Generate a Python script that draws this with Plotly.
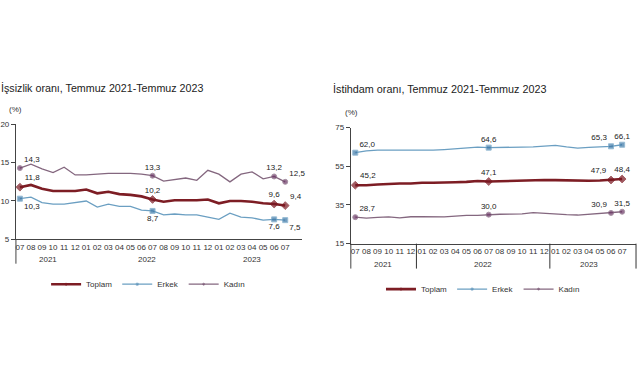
import plotly.graph_objects as go

# ---------------- data ----------------
months = ["07", "08", "09", "10", "11", "12",
          "01", "02", "03", "04", "05", "06", "07", "08", "09", "10", "11", "12",
          "01", "02", "03", "04", "05", "06", "07"]
years = ["2021"] * 6 + ["2022"] * 12 + ["2023"] * 7

series_names = ["Toplam", "Erkek", "Kadın"]

unemp_total = [11.8, 12.1, 11.6, 11.3, 11.3, 11.3, 11.5, 11.0, 11.2, 10.9, 10.8, 10.6,
               10.2, 9.9, 10.1, 10.1, 10.1, 10.2, 9.7, 10.0, 10.0, 9.9, 9.7, 9.6, 9.4]
unemp_male = [10.3, 10.5, 9.8, 9.6, 9.6, 9.8, 10.0, 9.2, 9.6, 9.3, 9.3, 8.8,
              8.7, 8.2, 8.3, 8.2, 8.2, 7.9, 7.6, 8.4, 7.9, 7.8, 7.5, 7.6, 7.5]
unemp_female = [14.3, 14.8, 14.2, 13.7, 14.4, 13.4, 13.4, 13.5, 13.6, 13.6, 13.6, 13.5,
                13.3, 12.6, 12.8, 13.0, 12.7, 14.0, 13.5, 12.5, 13.5, 13.8, 12.9, 13.2, 12.5]

emp_total = [45.2, 45.2, 45.6, 46.0, 46.1, 46.1, 46.5, 46.5, 46.5, 46.7, 46.9, 47.4,
             47.1, 47.3, 47.4, 47.6, 47.8, 47.9, 47.8, 47.6, 47.4, 47.5, 47.6, 47.9, 48.4]
emp_male = [62.0, 62.9, 63.3, 63.3, 63.2, 63.3, 63.2, 63.3, 63.6, 64.0, 64.6, 64.9,
            64.6, 64.8, 64.7, 64.9, 65.0, 65.3, 65.8, 65.0, 64.4, 64.7, 65.1, 65.3, 66.1]
emp_female = [28.7, 28.2, 28.6, 28.8, 28.3, 28.9, 29.0, 28.9, 28.8, 29.2, 29.6, 29.6,
              30.0, 30.2, 30.3, 30.4, 31.0, 30.6, 30.5, 30.0, 29.8, 30.3, 30.6, 30.9, 31.5]

label_idx = [0, 12, 23, 24]

left_title = "İşsizlik oranı, Temmuz 2021-Temmuz 2023"
right_title = "İstihdam oranı, Temmuz 2021-Temmuz 2023"
unit_label = "(%)"
left_yticks = [5, 10, 15, 20]
right_yticks = [15, 35, 55, 75]

# ---------------- styling ----------------
W, H = 641, 380
colors = {"Toplam": "#7d1d24", "Erkek": "#6b9fc2", "Kadın": "#84677f"}
mcolors = {"Toplam": "#7a1620", "Erkek": "#3a76a6", "Kadın": "#6a3464"}
widths = {"Toplam": 2.6, "Erkek": 1.3, "Kadın": 1.3}
symbols = {"Toplam": "diamond", "Erkek": "square", "Kadın": "circle"}
msizes = {"Toplam": 6, "Erkek": 5, "Kadın": 5}
FONT = "Liberation Sans, Arial, sans-serif"
TXT = "#222"

xkeys = [f"{y}-{m}" for y, m in zip(years, months)]
n = len(months)


def fmt(v):
    return f"{v:.1f}".replace(".", ",")


fig = go.Figure()


def add_series(vals, name, xa, ya, legend, positions):
    sizes = [msizes[name] if i in label_idx else 0 for i in range(n)]
    texts = [fmt(vals[i]) if i in label_idx else "" for i in range(n)]
    tpos = ["top center"] * n
    for k, i in enumerate(label_idx):
        tpos[i] = positions[k]
    fig.add_trace(go.Scatter(
        x=xkeys, y=vals, name=name, mode="lines+markers+text",
        xaxis=xa, yaxis=ya, legend=legend,
        line=dict(color=colors[name], width=widths[name]),
        marker=dict(size=sizes, color=mcolors[name], symbol=symbols[name]),
        text=texts, textposition=tpos, cliponaxis=False,
        textfont=dict(size=8, color=TXT, family=FONT),
    ))


top_pos = ["top right", "top center", "top center", "top right"]
bot_pos = ["bottom right", "bottom center", "bottom center", "bottom right"]
right_pos = ["top right", "top center", "top left", "top center"]

add_series(unemp_total, "Toplam", "x", "y", "legend", top_pos)
add_series(unemp_male, "Erkek", "x", "y", "legend", bot_pos)
add_series(unemp_female, "Kadın", "x", "y", "legend", top_pos)
add_series(emp_total, "Toplam", "x2", "y2", "legend2", right_pos)
add_series(emp_male, "Erkek", "x2", "y2", "legend2", right_pos)
add_series(emp_female, "Kadın", "x2", "y2", "legend2", right_pos)

axis_common = dict(showline=True, linecolor="#444", linewidth=1, showgrid=False,
                   zeroline=False, tickfont=dict(size=8, color="#333", family=FONT))

# year group label positions (centre of each group, category index scale)
groups = []
for y in dict.fromkeys(years):
    idx = [i for i, yy in enumerate(years) if yy == y]
    groups.append((y, idx[0], idx[-1]))

annotations = [
    dict(text=left_title, x=-5 / W, y=1 - 86 / H, xref="paper", yref="paper",
         xanchor="left", yanchor="middle", showarrow=False,
         font=dict(size=10.7, color=TXT, family=FONT)),
    dict(text=right_title, x=329 / W, y=1 - 87 / H, xref="paper", yref="paper",
         xanchor="left", yanchor="middle", showarrow=False,
         font=dict(size=10.8, color=TXT, family=FONT)),
    dict(text=unit_label, x=3 / W, y=1 - 108 / H, xref="paper", yref="paper",
         xanchor="left", yanchor="middle", showarrow=False,
         font=dict(size=8, color="#333", family=FONT)),
    dict(text=unit_label, x=341 / W, y=1 - 111 / H, xref="paper", yref="paper",
         xanchor="left", yanchor="middle", showarrow=False,
         font=dict(size=8, color="#333", family=FONT)),
]
shapes = []
for y, a, b in groups:
    c = (a + b) / 2
    annotations.append(dict(text=y, x=c, xref="x", y=1 - 262 / H, yref="paper",
                            showarrow=False, xanchor="center", yanchor="middle",
                            font=dict(size=8, color="#333", family=FONT)))
    annotations.append(dict(text=y, x=c, xref="x2", y=1 - 267 / H, yref="paper",
                            showarrow=False, xanchor="center", yanchor="middle",
                            font=dict(size=8, color="#333", family=FONT)))
    if b < n - 1:
        shapes.append(dict(type="line", xref="x2", x0=b + 0.5, x1=b + 0.5,
                           yref="paper", y0=1 - 245.5 / H, y1=1 - 271 / H,
                           line=dict(color="#333", width=1)))
# outer divider lines
shapes.append(dict(type="line", xref="x2 domain", x0=0, x1=0, yref="paper",
                   y0=1 - 245.5 / H, y1=1 - 271 / H, line=dict(color="#444", width=1)))
shapes.append(dict(type="line", xref="x2 domain", x0=1, x1=1, yref="paper",
                   y0=1 - 245.5 / H, y1=1 - 271 / H, line=dict(color="#333", width=1)))
shapes.append(dict(type="line", xref="x domain", x0=0, x1=0, yref="paper",
                   y0=1 - 241 / H, y1=1 - 266 / H, line=dict(color="#444", width=1)))

fig.update_layout(
    width=W, height=H, margin=dict(l=0, r=0, t=0, b=0),
    paper_bgcolor="white", plot_bgcolor="white",
    font=dict(family=FONT, size=8, color="#333"),
    xaxis=dict(domain=[12 / W, 300 / W], anchor="y", type="category",
               range=[-0.36, 25.53], tickmode="array", tickvals=xkeys, ticktext=months,
               tickangle=0, ticks="", **axis_common),
    yaxis=dict(domain=[1 - 241 / H, 1 - 123.3 / H], anchor="x", range=[5, 20],
               tickvals=left_yticks, ticks="outside", ticklen=4, tickcolor="#444",
               **axis_common),
    xaxis2=dict(domain=[349 / W, 636 / W], anchor="y2", type="category",
                range=[-0.40, 25.25], tickmode="array", tickvals=xkeys, ticktext=months,
                tickangle=0, ticks="", **axis_common),
    yaxis2=dict(domain=[1 - 245.5 / H, 1 - 126.5 / H], anchor="x2", range=[15, 75],
                tickvals=right_yticks, ticks="outside", ticklen=4, tickcolor="#444",
                **axis_common),
    legend=dict(orientation="h", x=145 / W, y=1 - 287 / H, xanchor="center",
                yanchor="middle", font=dict(size=8, color="#333", family=FONT),
                itemwidth=30, bgcolor="rgba(0,0,0,0)"),
    legend2=dict(orientation="h", x=482 / W, y=1 - 292 / H, xanchor="center",
                 yanchor="middle", font=dict(size=8, color="#333", family=FONT),
                 itemwidth=30, bgcolor="rgba(0,0,0,0)"),
    annotations=annotations,
    shapes=shapes,
)

fig.write_html("out.html", config={"displayModeBar": False},
               post_script="document.body.style.margin='0';")
